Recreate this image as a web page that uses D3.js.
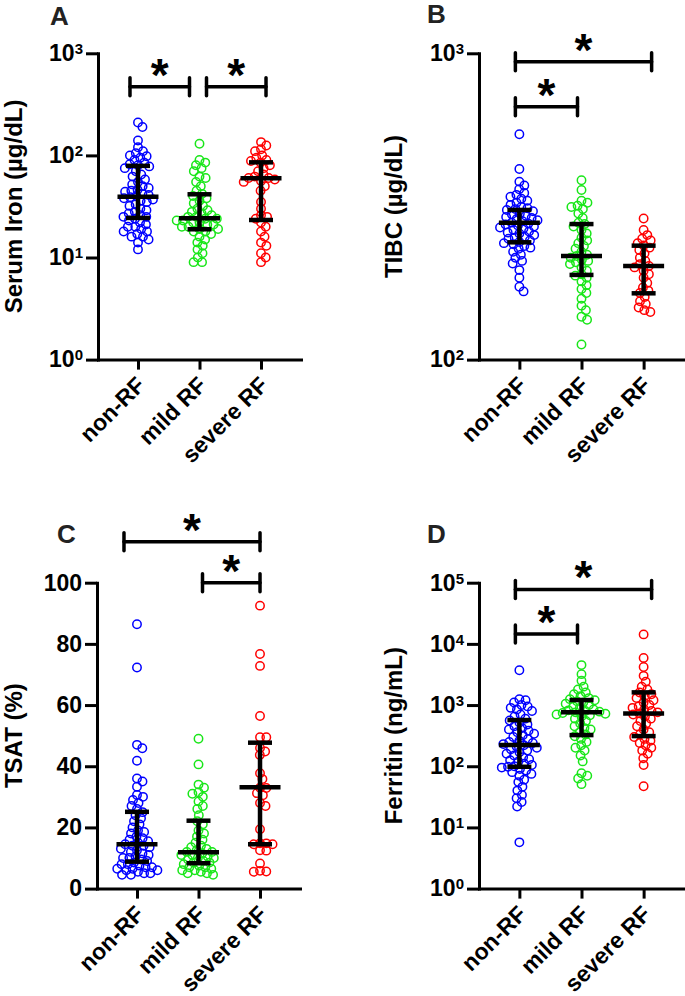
<!DOCTYPE html>
<html><head><meta charset="utf-8">
<script src="https://cdn.jsdelivr.net/npm/d3@7"></script>
<style>
body{margin:0;background:#fff}
svg{display:block}
text{font-family:"Liberation Sans",Arial,Helvetica,sans-serif;font-weight:bold}
</style>
</head><body>
<svg id="chart" width="685" height="996"></svg>
<script>
// ---------------- DATA ----------------
const categories = ["non-RF", "mild RF", "severe RF"];
const groupColors = ["#0000ff", "#19e619", "#ff0000"];

// A: Serum Iron (µg/dL)
const ironNonRF = [210,190,140,120,110,105,100,98,95,90,85,82,80,78,75,70,65,62,58,55,52,50,48,46,45,44,42,41,40,39,38,37,36,35,33,32,30,29,28,27,26,25,25,24,23,22,21,20,20,19,18,18,17,16,16,15,14,12];
const ironMild = [130,90,85,80,75,70,62,60,55,50,45,42,40,38,36,34,32,30,29,28,27,26,25,25,24,24,23,23,22,22,21,21,20,20,19,19,18,18,17,16,15,14,13,12,11,10,9,9];
const ironSevere = [135,125,115,110,100,95,90,88,85,80,75,70,65,62,60,60,58,56,55,50,45,35,30,26,25,24,22,20,18,16,14,13,11,10,9];
const ironMedian = [39.4, 24.2, 59.7];
const ironQ1 = [24.4, 18.9, 23.3];
const ironQ3 = [79, 41.6, 85.5];

// B: TIBC (µg/dL)
const tibcNonRF = [544,419,381,370,360,350,345,340,335,330,325,320,315,312,310,308,305,300,298,295,292,290,288,285,283,280,278,276,274,272,270,268,265,262,260,258,255,252,250,248,245,242,240,238,235,232,230,225,220,215,210,206,196,185,173,167];
const tibcMild = [385,358,330,325,318,315,310,300,290,280,277,272,265,258,250,245,240,235,230,225,220,218,215,212,210,208,205,200,195,190,188,185,180,175,170,165,158,150,145,138,135,112];
const tibcSevere = [289,265,255,248,245,240,236,232,228,222,215,210,205,202,200,195,190,185,178,172,168,165,160,155,152,148,145,143];
const tibcMedian = [280, 218, 202];
const tibcQ1 = [241.5, 189, 164.6];
const tibcQ3 = [308, 277, 235.5];

// C: TSAT (%)
const tsatNonRF = [86.4,72.3,47,45.9,41.8,36,35,33.3,30.6,30,29,28,27,26,25,24,23,22,21,20,19,18.5,18,17,16.5,16,15.5,15,14.5,14,14,13.5,13,12.5,12,11.5,11,10.5,10,10,9.5,9,8.5,8,8,7.5,7,7,6.5,6.5,6,6,5.5,5,5,4.5,4.5];
const tsatMild = [49,40.6,34,33,31.5,31,30,28.5,27,26,24,22,21,19,18,17,16,15,14,13.5,13,12.5,12,12,11.5,11,11,10.5,10,10,9.5,9,8.5,8.5,8,7.5,7,7,6.5,6,6,5.5,5,5,4.5];
const tsatSevere = [92.5,76.7,72.8,56.4,49.5,49.5,46,44.8,43.7,37.7,35.8,33,32.9,31.2,30.5,28,27,19.4,14.8,14.8,14.5,14.5,12.5,12.4,8.2,5.8,5.6,5.5];
const tsatMedian = [14.5, 11.9, 33.1];
const tsatQ1 = [8.8, 8.3, 14.5];
const tsatQ3 = [25.1, 22.2, 47.7];

// D: Ferritin (ng/mL)
const ferrNonRF = [3700,1250,1200,1100,1000,950,900,850,800,700,650,600,560,520,480,450,420,400,380,360,340,320,300,280,260,250,240,230,220,210,200,190,180,170,160,150,140,130,125,120,110,105,100,98,95,90,85,80,75,70,60,55,46,40,34,30,26,22,5.7];
const ferrMild = [4500,3200,2500,2000,1800,1600,1500,1400,1300,1250,1200,1150,1100,1050,1000,950,900,850,820,800,780,760,740,720,700,680,650,600,550,500,450,420,400,360,330,310,280,250,220,200,180,150,120,77,70,63,51];
const ferrSevere = [14300,5900,4200,3000,2400,2000,1800,1600,1500,1400,1300,1200,1100,1000,950,900,850,800,760,730,700,650,600,550,500,450,400,360,330,300,280,260,240,220,200,180,160,135,105,47];
const ferrMedian = [222, 760, 731];
const ferrQ1 = [98, 323, 311];
const ferrQ3 = [569, 1207, 1612];

// Tick values
const ironTicks = [1, 10, 100, 1000];
const tibcTicks = [100, 1000];
const tsatTicks = [0, 20, 40, 60, 80, 100];
const ferrTicks = [1, 10, 100, 1000, 10000, 100000];

// Significance comparisons: [groupA, groupB, bracket height in data units]
const ironSig = [[0, 1, 470], [1, 2, 470]];
const tibcSig = [[0, 2, 939], [0, 1, 669]];
const tsatSig = [[0, 2, 113.4], [1, 2, 100]];
const ferrSig = [[0, 2, 77600], [0, 1, 14450]];

// ---------------- LAYOUT ----------------
const panels = [
  {letter:"A", title:"Serum Iron (µg/dL)", groups:[ironNonRF, ironMild, ironSevere], med:ironMedian, q1:ironQ1, q3:ironQ3,
   log:true, domain:[1,1000], ticks:ironTicks, sig:ironSig, sigInset:[[-8,-10],[7,5]],
   x0:98, x1:301, yT:53.3, yB:359.6, letterX:50, letterY:25, titleX:22},
  {letter:"B", title:"TIBC (µg/dL)", groups:[tibcNonRF, tibcMild, tibcSevere], med:tibcMedian, q1:tibcQ1, q3:tibcQ3,
   log:true, domain:[100,1000], ticks:tibcTicks, sig:tibcSig, sigInset:[[-4,8],[-4,-4]],
   x0:479, x1:684, yT:53.3, yB:359.6, letterX:427, letterY:23, titleX:402},
  {letter:"C", title:"TSAT (%)", groups:[tsatNonRF, tsatMild, tsatSevere], med:tsatMedian, q1:tsatQ1, q3:tsatQ3,
   log:false, domain:[0,100], ticks:tsatTicks, sig:tsatSig, sigInset:[[-13,0],[4,0]],
   x0:97, x1:300, yT:582.7, yB:888.6, letterX:57, letterY:543, titleX:22},
  {letter:"D", title:"Ferritin (ng/mL)", groups:[ferrNonRF, ferrMild, ferrSevere], med:ferrMedian, q1:ferrQ1, q3:ferrQ3,
   log:true, domain:[1,100000], ticks:ferrTicks, sig:ferrSig, sigInset:[[-4,8],[-4,-4]],
   x0:479, x1:684, yT:582.7, yB:888.6, letterX:427, letterY:543, titleX:402}
];

const svg = d3.select("#chart");

function swarm(ys, d) {
  const order = ys.map((y, i) => i).sort((a, b) => ys[a] - ys[b]);
  const placed = [];
  const xs = new Array(ys.length);
  for (const i of order) {
    const y = ys[i];
    const near = placed.filter(p => Math.abs(p.y - y) < d);
    const cands = [0];
    near.forEach(p => {
      const dx = Math.sqrt(d * d - (p.y - y) ** 2);
      cands.push(p.x + dx, p.x - dx);
    });
    cands.sort((a, b) => Math.abs(a) - Math.abs(b));
    let x = 0;
    for (const c of cands) {
      if (near.every(p => (p.x - c) ** 2 + (p.y - y) ** 2 >= d * d - 0.01)) { x = c; break; }
    }
    placed.push({x, y});
    xs[i] = x;
  }
  return xs;
}

panels.forEach(cfg => {
  const g = svg.append("g");
  const x = d3.scalePoint().domain(categories).range([cfg.x0, cfg.x1]).padding(0.65);
  const y = (cfg.log ? d3.scaleLog() : d3.scaleLinear()).domain(cfg.domain).range([cfg.yB, cfg.yT]);

  // points
  cfg.groups.forEach((vals, gi) => {
    const ys = vals.map(v => y(v));
    const xs = swarm(ys, 6.3);
    g.append("g").selectAll("circle").data(vals).join("circle")
      .attr("cx", (v, i) => x(categories[gi]) + xs[i])
      .attr("cy", v => y(v))
      .attr("r", 4.2)
      .attr("fill", "none")
      .attr("stroke", groupColors[gi])
      .attr("stroke-width", 1.5);
  });

  // median + IQR
  const eb = g.append("g").attr("stroke", "#000").attr("stroke-width", 4.5);
  categories.forEach((c, gi) => {
    const cx = x(c);
    eb.append("line").attr("x1", cx).attr("x2", cx).attr("y1", y(cfg.q1[gi])).attr("y2", y(cfg.q3[gi]));
    eb.append("line").attr("x1", cx - 20.5).attr("x2", cx + 20.5).attr("y1", y(cfg.med[gi])).attr("y2", y(cfg.med[gi]));
    [cfg.q1[gi], cfg.q3[gi]].forEach(q => {
      eb.append("line").attr("x1", cx - 12).attr("x2", cx + 12).attr("y1", y(q)).attr("y2", y(q));
    });
  });

  // y axis
  const ya = d3.axisLeft(y).tickValues(cfg.ticks).tickSize(12).tickSizeOuter(0).tickPadding(3);
  const yg = g.append("g").attr("transform", `translate(${cfg.x0},0)`).call(ya);
  yg.select(".domain").attr("stroke-width", 3).attr("stroke-linecap", "square");
  yg.selectAll(".tick line").attr("stroke-width", 3);
  yg.selectAll(".tick text").attr("font-size", 23).attr("fill", "#000")
    .attr("font-family", "'Liberation Sans',Arial,sans-serif").attr("font-weight", "bold");
  if (cfg.log) {
    yg.selectAll(".tick text").each(function(v) {
      const t = d3.select(this).text("");
      t.append("tspan").text("10");
      t.append("tspan").attr("font-size", 15).attr("dy", -7).text(Math.round(Math.log10(v)));
    });
  }

  // x axis
  const xa = d3.axisBottom(x).tickSize(10).tickSizeOuter(0);
  const xg = g.append("g").attr("transform", `translate(0,${cfg.yB})`).call(xa);
  xg.select(".domain").attr("stroke-width", 3).attr("stroke-linecap", "square");
  xg.selectAll(".tick line").attr("stroke-width", 3);
  xg.selectAll(".tick text").attr("font-size", 23).attr("fill", "#000")
    .attr("font-family", "'Liberation Sans',Arial,sans-serif").attr("font-weight", "bold")
    .attr("text-anchor", "end").attr("x", 0).attr("y", 0).attr("dy", 0)
    .attr("transform", "translate(8,27) rotate(-45)");

  // axis title
  g.append("text").attr("transform", `translate(${cfg.titleX},${(cfg.yT + cfg.yB) / 2}) rotate(-90)`)
    .attr("text-anchor", "middle").attr("font-size", 24).attr("fill", "#000").text(cfg.title);

  // panel letter
  g.append("text").attr("x", cfg.letterX).attr("y", cfg.letterY).attr("font-size", 26)
    .attr("fill", "#222").text(cfg.letter);

  // significance brackets
  cfg.sig.forEach((s, k) => {
    const xa1 = x(categories[s[0]]) + cfg.sigInset[k][0];
    const xb1 = x(categories[s[1]]) + cfg.sigInset[k][1];
    const yy = y(s[2]);
    const bg = g.append("g").attr("stroke", "#000").attr("stroke-width", 3.5).attr("stroke-linecap", "round");
    bg.append("line").attr("x1", xa1).attr("x2", xb1).attr("y1", yy).attr("y2", yy);
    bg.append("line").attr("x1", xa1).attr("x2", xa1).attr("y1", yy - 9).attr("y2", yy + 9);
    bg.append("line").attr("x1", xb1).attr("x2", xb1).attr("y1", yy - 9).attr("y2", yy + 9);
    g.append("text").attr("x", (xa1 + xb1) / 2).attr("y", yy + 4).attr("text-anchor", "middle")
      .attr("font-size", 46).attr("fill", "#000").text("*");
  });
});
</script>
</body></html>
